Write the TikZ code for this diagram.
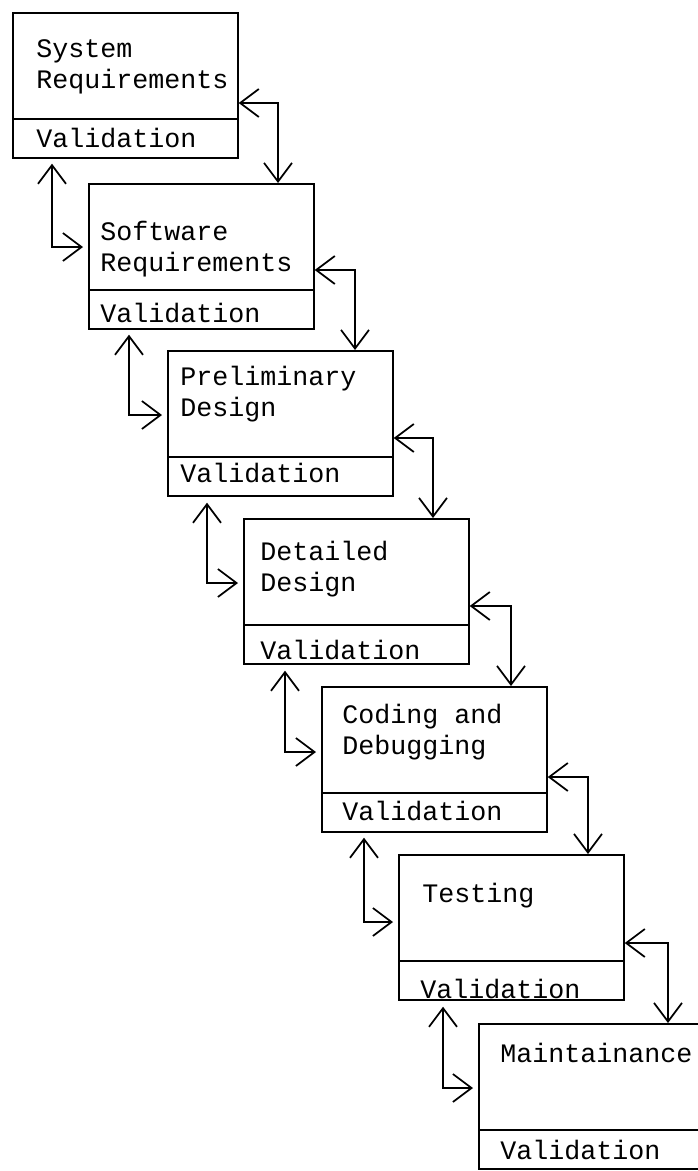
\documentclass[tikz,border=0pt]{standalone}
\usepackage{fontspec}
\setmonofont{Liberation Mono}
\usetikzlibrary{arrows.meta,calc}

\tikzset{
  phase/.style={draw, line width=1.3pt, anchor=north west, inner sep=0pt,
    minimum width=168.75pt, minimum height=108.75pt},
  phasetext/.style={anchor=base west, inner sep=0pt, align=left,
    font=\ttfamily\fontsize{20}{23.25}\selectfont},
  divider/.style={line width=1.3pt},
  loopback/.style={line width=1.3pt,
    {Straight Barb[length=14pt,width=21pt]}-{Straight Barb[length=14pt,width=21pt]}}
}

\begin{document}
\begin{tikzpicture}[x=0.75pt,y=0.75pt,yscale=-1,xscale=1]
\useasboundingbox (0,0) rectangle (698,1171);
\clip (0,0) rectangle (698,1171);

% Boxes
\node[phase] (sysreq) at (12,12) {};
\node[phase] (swreq) at (88,183) {};
\node[phase] (prelim) at (167,350) {};
\node[phase] (detail) at (243,518) {};
\node[phase] (coding) at (321,686) {};
\node[phase] (testing) at (398,854) {};
\node[phase] (maint) at (478,1023) {};

% Dividers
\draw[divider] ($(sysreq.south west)+(0,-40)$) -- ($(sysreq.south east)+(0,-40)$);
\draw[divider] ($(swreq.south west)+(0,-40)$) -- ($(swreq.south east)+(0,-40)$);
\draw[divider] ($(prelim.south west)+(0,-40)$) -- ($(prelim.south east)+(0,-40)$);
\draw[divider] ($(detail.south west)+(0,-40)$) -- ($(detail.south east)+(0,-40)$);
\draw[divider] ($(coding.south west)+(0,-40)$) -- ($(coding.south east)+(0,-40)$);
\draw[divider] ($(testing.south west)+(0,-40)$) -- ($(testing.south east)+(0,-40)$);
\draw[divider] ($(maint.south west)+(0,-40)$) -- ($(maint.south east)+(0,-40)$);

% Text Node (base = last line)
\node[phasetext] (sysreqtxt) at ($(sysreq.north west)+(24,76)$) {System\\Requirements};
\node[phasetext] (sysreqval) at ($(sysreq.south west)+(24,-11)$) {Validation};
% Text Node
\node[phasetext] (swreqtxt) at ($(swreq.north west)+(12,88)$) {Software\\Requirements};
\node[phasetext] (swreqval) at ($(swreq.south west)+(12,-7)$) {Validation};
% Text Node
\node[phasetext] (prelimtxt) at ($(prelim.north west)+(13,66)$) {Preliminary\\Design};
\node[phasetext] (prelimval) at ($(prelim.south west)+(13,-14)$) {Validation};
% Text Node
\node[phasetext] (detailtxt) at ($(detail.north west)+(17,73)$) {Detailed\\Design};
\node[phasetext] (detailval) at ($(detail.south west)+(17,-5)$) {Validation};
% Text Node
\node[phasetext] (codingtxt) at ($(coding.north west)+(21,68)$) {Coding and\\Debugging};
\node[phasetext] (codingval) at ($(coding.south west)+(21,-12)$) {Validation};
% Text Node
\node[phasetext] (testingtxt) at ($(testing.north west)+(24,48)$) {Testing};
\node[phasetext] (testingval) at ($(testing.south west)+(22,-2)$) {Validation};
% Text Node
\node[phasetext] (mainttxt) at ($(maint.north west)+(22,39)$) {Maintainance};
\node[phasetext] (maintval) at ($(maint.south west)+(22,-10)$) {Validation};

% Forward / back arrows on the right
\draw[loopback] ($(sysreq.north east)+(0,91)$) -| ($(swreq.north west)+(190,0)$);
\draw[loopback] ($(swreq.north east)+(0,87)$) -| ($(prelim.north west)+(188,0)$);
\draw[loopback] ($(prelim.north east)+(0,88)$) -| ($(detail.north west)+(190,0)$);
\draw[loopback] ($(detail.north east)+(0,88)$) -| ($(coding.north west)+(190,0)$);
\draw[loopback] ($(coding.north east)+(0,91)$) -| ($(testing.north west)+(190,0)$);
\draw[loopback] ($(testing.north east)+(0,89)$) -| ($(maint.north west)+(190,0)$);

% Validation arrows on the left
\draw[loopback] ($(sysreq.south west)+(40,5)$) |- ($(swreq.north west)+(-5,64)$);
\draw[loopback] ($(swreq.south west)+(41,5)$) |- ($(prelim.north west)+(-5,65)$);
\draw[loopback] ($(prelim.south west)+(40,6)$) |- ($(detail.north west)+(-5,65)$);
\draw[loopback] ($(detail.south west)+(42,6)$) |- ($(coding.north west)+(-5,66)$);
\draw[loopback] ($(coding.south west)+(43,5)$) |- ($(testing.north west)+(-5,68)$);
\draw[loopback] ($(testing.south west)+(45,6)$) |- ($(maint.north west)+(-5,65)$);

\end{tikzpicture}
\end{document}
